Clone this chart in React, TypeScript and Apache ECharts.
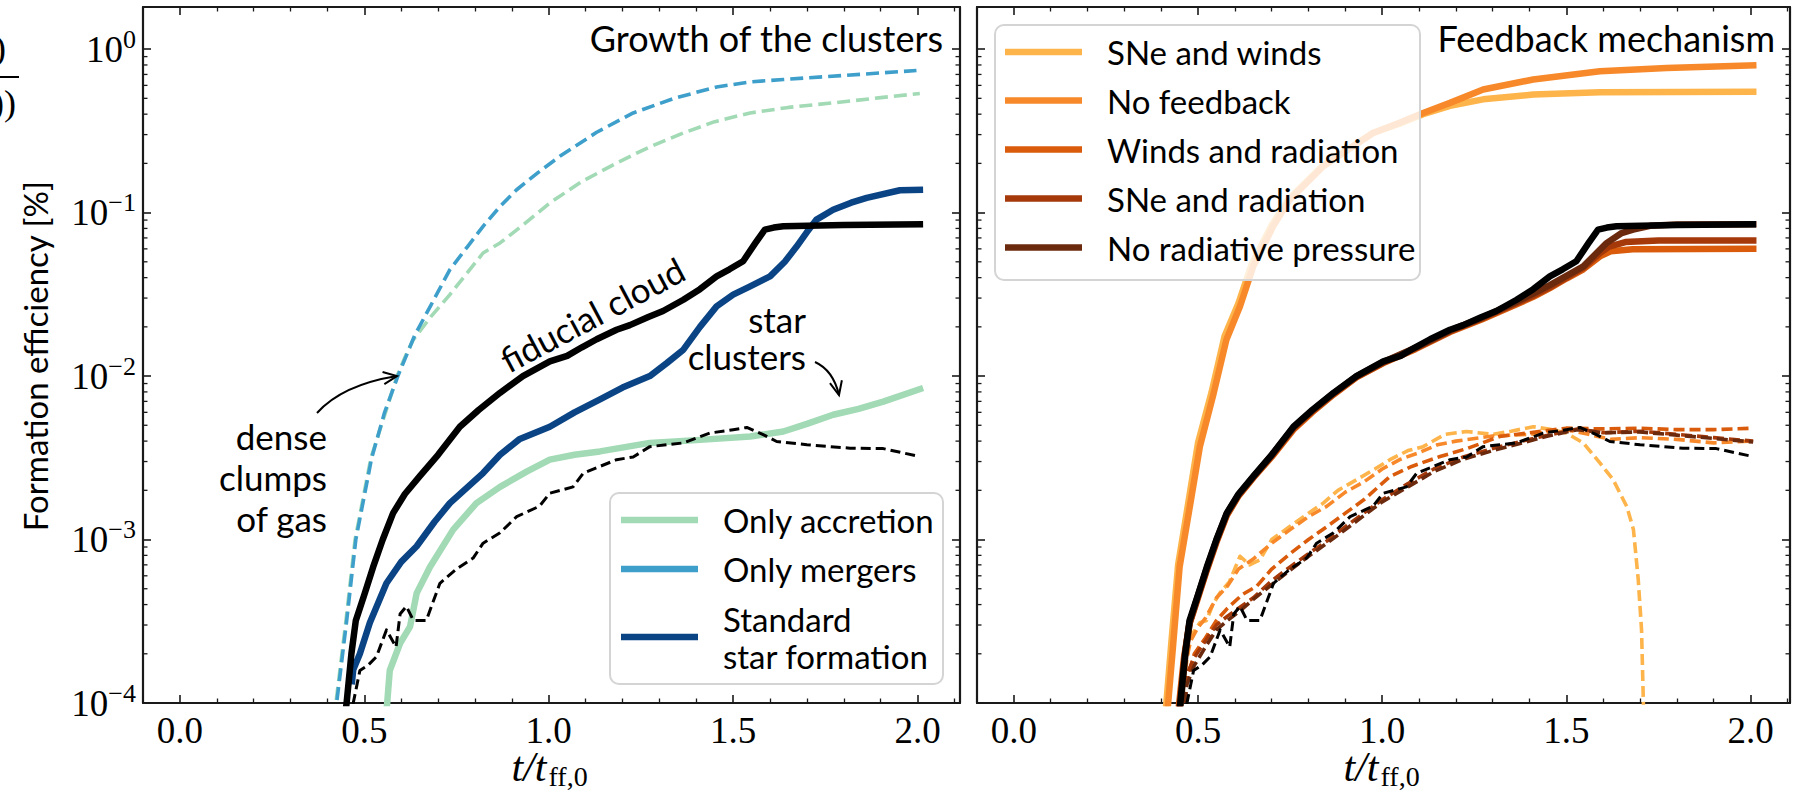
import React, { useEffect, useRef } from "react";
import * as echarts from "echarts";

type Pt = [number, number];

// ---------- Growth of the clusters (left panel) ----------
// fiducial cloud, total stellar mass (solid black) – shared by both panels
const fiducialCloud: Pt[] = [
  [0.447, 8e-5], [0.452, 1.0e-4], [0.465, 2.0e-4], [0.477, 3.2e-4], [0.5, 4.6e-4],
  [0.524, 6.8e-4], [0.55, 1.0e-3], [0.578, 1.45e-3], [0.61, 1.9e-3], [0.651, 2.45e-3],
  [0.7, 3.3e-3], [0.759, 4.9e-3], [0.81, 6.2e-3], [0.868, 7.9e-3], [0.93, 1.0e-2],
  [1.003, 1.23e-2], [1.05, 1.33e-2], [1.09, 1.5e-2], [1.13, 1.68e-2], [1.184, 1.92e-2],
  [1.22, 2.05e-2], [1.27, 2.3e-2], [1.31, 2.5e-2], [1.365, 2.93e-2], [1.41, 3.4e-2],
  [1.455, 4.07e-2], [1.49, 4.5e-2], [1.527, 5.04e-2], [1.56, 6.5e-2], [1.586, 7.87e-2],
  [1.61, 8.1e-2], [1.636, 8.24e-2], [1.8, 8.4e-2], [2.015, 8.5e-2],
];
// fiducial cloud, mass in star clusters (dashed black) – shared by both panels
const fiducialClusters: Pt[] = [
  [0.466, 8e-5], [0.47, 1.0e-4], [0.488, 1.58e-4], [0.51, 1.7e-4], [0.533, 1.92e-4],
  [0.56, 2.8e-4], [0.586, 2.2e-4], [0.597, 3.5e-4], [0.614, 3.9e-4], [0.633, 3.2e-4],
  [0.668, 3.2e-4], [0.705, 5.4e-4], [0.75, 6.6e-4], [0.795, 7.7e-4], [0.822, 9.5e-4],
  [0.868, 1.1e-3], [0.913, 1.38e-3], [0.975, 1.6e-3], [1.003, 1.92e-3], [1.066, 2.1e-3],
  [1.094, 2.55e-3], [1.184, 3.08e-3], [1.229, 3.2e-3], [1.274, 3.7e-3], [1.319, 3.8e-3],
  [1.365, 3.9e-3], [1.437, 4.48e-3], [1.5, 4.7e-3], [1.537, 4.85e-3], [1.58, 4.4e-3],
  [1.618, 3.98e-3], [1.7, 3.8e-3], [1.817, 3.62e-3], [1.907, 3.6e-3], [2.006, 3.22e-3],
];
const standardSF: Pt[] = [
  [0.466, 1.3e-4], [0.47, 1.6e-4], [0.488, 2.0e-4], [0.515, 3.1e-4], [0.56, 5.4e-4],
  [0.6, 7.3e-4], [0.642, 9.1e-4], [0.69, 1.28e-3], [0.732, 1.67e-3], [0.822, 2.55e-3],
  [0.868, 3.3e-3], [0.92, 4.1e-3], [1.003, 4.9e-3], [1.07, 6.0e-3], [1.139, 7.2e-3],
  [1.2, 8.5e-3], [1.274, 1.0e-2], [1.32, 1.2e-2], [1.365, 1.45e-2], [1.41, 2.0e-2],
  [1.455, 2.67e-2], [1.5, 3.15e-2], [1.546, 3.54e-2], [1.6, 4.07e-2], [1.64, 5.0e-2],
  [1.672, 6.2e-2], [1.7, 7.6e-2], [1.726, 9.06e-2], [1.771, 1.04e-1], [1.82, 1.15e-1],
  [1.862, 1.23e-1], [1.952, 1.37e-1], [2.015, 1.38e-1],
];
const onlyAccretion: Pt[] = [
  [0.558, 8e-5], [0.562, 1.0e-4], [0.569, 1.58e-4], [0.597, 2.32e-4], [0.624, 2.93e-4],
  [0.642, 4.7e-4], [0.678, 6.8e-4], [0.741, 1.15e-3], [0.804, 1.67e-3], [0.868, 2.1e-3],
  [0.94, 2.6e-3], [1.003, 3.08e-3], [1.07, 3.3e-3], [1.139, 3.46e-3], [1.274, 3.9e-3],
  [1.41, 4.07e-3], [1.546, 4.27e-3], [1.636, 4.58e-3], [1.7, 5.1e-3], [1.771, 5.8e-3],
  [1.84, 6.3e-3], [1.907, 6.98e-3], [2.015, 8.45e-3],
];
// dense clumps of gas (dashed)
const onlyAccretionGas: Pt[] = [
  [0.418, 8e-5], [0.423, 1e-4], [0.45, 3.16e-4], [0.475, 1e-3], [0.518, 3.16e-3],
  [0.589, 1e-2], [0.61, 1.3e-2], [0.632, 1.66e-2], [0.68, 2.3e-2], [0.732, 3.15e-2],
  [0.822, 5.66e-2], [0.868, 6.52e-2], [0.93, 8.4e-2], [1.003, 1.146e-1], [1.09, 1.55e-1],
  [1.184, 2.01e-1], [1.27, 2.5e-1], [1.365, 3.07e-1], [1.45, 3.6e-1], [1.546, 4.07e-1],
  [1.65, 4.4e-1], [1.771, 4.69e-1], [1.9, 5.05e-1], [2.006, 5.35e-1],
];
const onlyMergersGas: Pt[] = [
  [0.42, 8e-5], [0.425, 1e-4], [0.452, 3.16e-4], [0.477, 1e-3], [0.52, 3.16e-3],
  [0.555, 6.0e-3], [0.591, 1e-2], [0.637, 1.78e-2], [0.68, 2.7e-2], [0.732, 4.48e-2],
  [0.78, 6.2e-2], [0.822, 8.24e-2], [0.868, 1.09e-1], [0.913, 1.38e-1], [0.97, 1.75e-1],
  [1.03, 2.21e-1], [1.13, 3.1e-1], [1.229, 4.07e-1], [1.34, 5.0e-1], [1.455, 5.87e-1],
  [1.546, 6.3e-1], [1.636, 6.52e-1], [1.8, 6.9e-1], [1.997, 7.4e-1],
];

// ---------- Feedback mechanism (right panel) ----------
const sneWinds: Pt[] = [
  [0.41, 8e-5], [0.414, 1e-4], [0.428, 2.4e-4], [0.446, 7e-4], [0.474, 1.7e-3],
  [0.5, 3.9e-3], [0.537, 8e-3], [0.572, 1.75e-2], [0.61, 2.8e-2], [0.645, 4.8e-2],
  [0.7, 8.4e-2], [0.745, 1.2e-1], [0.84, 1.95e-1], [0.975, 3.07e-1], [1.047, 3.5e-1],
  [1.111, 4.0e-1], [1.184, 4.5e-1], [1.274, 4.93e-1], [1.41, 5.27e-1], [1.591, 5.44e-1],
  [2.016, 5.48e-1],
];
const noFeedback: Pt[] = [
  [0.415, 8e-5], [0.419, 1e-4], [0.432, 2.2e-4], [0.45, 6.8e-4], [0.478, 1.6e-3],
  [0.505, 3.7e-3], [0.541, 7.6e-3], [0.577, 1.67e-2], [0.614, 2.67e-2], [0.65, 4.69e-2],
  [0.704, 8.24e-2], [0.749, 1.2e-1], [0.84, 1.92e-1], [0.975, 3.07e-1], [1.047, 3.54e-1],
  [1.111, 4.07e-1], [1.184, 4.69e-1], [1.274, 5.66e-1], [1.41, 6.52e-1], [1.591, 7.33e-1],
  [1.772, 7.67e-1], [2.016, 7.96e-1],
];
const windsRadiation: Pt[] = [
  [0.444, 8e-5], [0.449, 1.0e-4], [0.462, 1.9e-4], [0.476, 3.0e-4], [0.5, 4.4e-4],
  [0.524, 6.5e-4], [0.55, 9.6e-4], [0.578, 1.4e-3], [0.61, 1.85e-3], [0.651, 2.4e-3],
  [0.7, 3.2e-3], [0.759, 4.7e-3], [0.81, 6.0e-3], [0.868, 7.7e-3], [0.93, 9.8e-3],
  [1.003, 1.2e-2], [1.09, 1.46e-2], [1.184, 1.86e-2], [1.27, 2.22e-2], [1.365, 2.75e-2],
  [1.41, 3.05e-2], [1.455, 3.45e-2], [1.5, 3.95e-2], [1.546, 4.5e-2], [1.591, 5.4e-2],
  [1.62, 5.8e-2], [1.68, 5.97e-2], [2.016, 6.0e-2],
];
const sneRadiation: Pt[] = [
  [0.446, 8e-5], [0.451, 1.0e-4], [0.464, 1.95e-4], [0.477, 3.1e-4], [0.5, 4.5e-4],
  [0.524, 6.6e-4], [0.55, 9.8e-4], [0.578, 1.42e-3], [0.61, 1.87e-3], [0.651, 2.42e-3],
  [0.7, 3.25e-3], [0.759, 4.8e-3], [0.81, 6.1e-3], [0.868, 7.8e-3], [0.93, 9.9e-3],
  [1.003, 1.21e-2], [1.09, 1.48e-2], [1.184, 1.88e-2], [1.27, 2.25e-2], [1.365, 2.8e-2],
  [1.41, 3.1e-2], [1.455, 3.5e-2], [1.5, 4.0e-2], [1.546, 4.6e-2], [1.591, 5.66e-2],
  [1.616, 6.2e-2], [1.66, 6.6e-2], [1.75, 6.75e-2], [2.016, 6.76e-2],
];
const noRadPressure: Pt[] = [
  [0.448, 8e-5], [0.453, 1.0e-4], [0.466, 2.0e-4], [0.478, 3.15e-4], [0.5, 4.55e-4],
  [0.524, 6.7e-4], [0.55, 9.9e-4], [0.578, 1.44e-3], [0.61, 1.88e-3], [0.651, 2.43e-3],
  [0.7, 3.28e-3], [0.759, 4.85e-3], [0.81, 6.15e-3], [0.868, 7.85e-3], [0.93, 9.95e-3],
  [1.003, 1.22e-2], [1.09, 1.49e-2], [1.184, 1.9e-2], [1.27, 2.27e-2], [1.365, 2.85e-2],
  [1.41, 3.2e-2], [1.455, 3.6e-2], [1.5, 4.1e-2], [1.546, 4.69e-2], [1.58, 5.6e-2],
  [1.609, 6.5e-2], [1.65, 7.5e-2], [1.681, 7.87e-2], [1.727, 8.3e-2], [1.8, 8.45e-2],
  [2.016, 8.5e-2],
];
// mass in star clusters (dashed)
const sneWindsClusters: Pt[] = [
  [0.455, 8e-5], [0.462, 1.3e-4], [0.475, 2.3e-4], [0.487, 2.7e-4], [0.505, 3.1e-4],
  [0.523, 3.2e-4], [0.54, 4.0e-4], [0.559, 4.7e-4], [0.585, 5.5e-4], [0.614, 7.9e-4],
  [0.64, 7.0e-4], [0.668, 7.5e-4], [0.7, 1.0e-3], [0.749, 1.2e-3], [0.8, 1.45e-3],
  [0.84, 1.67e-3], [0.88, 2.0e-3], [0.93, 2.32e-3], [0.98, 2.7e-3], [1.021, 3.08e-3],
  [1.07, 3.5e-3], [1.111, 3.7e-3], [1.17, 4.4e-3], [1.229, 4.58e-3], [1.3, 4.4e-3],
  [1.35, 4.6e-3], [1.41, 4.9e-3], [1.46, 4.7e-3], [1.5, 4.48e-3], [1.546, 3.9e-3],
  [1.591, 2.94e-3], [1.627, 2.32e-3], [1.664, 1.59e-3], [1.682, 1.15e-3], [1.695, 5.7e-4],
  [1.704, 2.8e-4], [1.709, 1.0e-4], [1.711, 5e-5],
];
const noFeedbackClusters: Pt[] = [
  [0.452, 8e-5], [0.46, 1.5e-4], [0.48, 2.4e-4], [0.5, 2.9e-4], [0.52, 3.3e-4],
  [0.55, 4.4e-4], [0.58, 5.2e-4], [0.61, 6.6e-4], [0.65, 7.6e-4], [0.7, 9.5e-4],
  [0.75, 1.15e-3], [0.8, 1.38e-3], [0.85, 1.6e-3], [0.9, 1.95e-3], [0.95, 2.25e-3],
  [1.0, 2.7e-3], [1.05, 3.1e-3], [1.1, 3.4e-3], [1.15, 3.8e-3], [1.2, 4.0e-3],
  [1.3, 4.3e-3], [1.4, 4.4e-3], [1.46, 4.6e-3], [1.5, 4.7e-3], [1.56, 4.4e-3],
  [1.62, 4.1e-3], [1.7, 4.2e-3], [1.8, 4.1e-3], [1.9, 3.9e-3], [2.007, 4.0e-3],
];
const windsRadiationClusters: Pt[] = [
  [0.46, 8e-5], [0.47, 1.4e-4], [0.49, 2.0e-4], [0.52, 2.5e-4], [0.55, 3.2e-4],
  [0.58, 3.8e-4], [0.62, 4.6e-4], [0.66, 5.2e-4], [0.7, 6.6e-4], [0.75, 8.2e-4],
  [0.8, 1.0e-3], [0.85, 1.2e-3], [0.9, 1.45e-3], [0.95, 1.75e-3], [1.021, 2.43e-3],
  [1.08, 2.8e-3], [1.157, 3.22e-3], [1.23, 3.6e-3], [1.319, 4.27e-3], [1.4, 4.5e-3],
  [1.5, 4.8e-3], [1.6, 4.75e-3], [1.7, 4.8e-3], [1.8, 4.7e-3], [1.9, 4.7e-3], [2.007, 4.8e-3],
];
const sneRadiationClusters: Pt[] = [
  [0.458, 8e-5], [0.47, 1.5e-4], [0.49, 1.9e-4], [0.52, 2.4e-4], [0.55, 3.0e-4],
  [0.58, 3.4e-4], [0.61, 3.8e-4], [0.65, 4.4e-4], [0.7, 5.6e-4], [0.75, 6.8e-4],
  [0.8, 8.2e-4], [0.85, 9.8e-4], [0.9, 1.2e-3], [0.95, 1.45e-3], [1.0, 1.75e-3],
  [1.07, 2.2e-3], [1.14, 2.7e-3], [1.22, 3.2e-3], [1.3, 3.6e-3], [1.38, 4.0e-3],
  [1.45, 4.35e-3], [1.53, 4.75e-3], [1.6, 4.5e-3], [1.7, 4.6e-3], [1.8, 4.4e-3],
  [1.9, 4.2e-3], [2.007, 4.0e-3],
];
const noRadPressureClusters: Pt[] = [
  [0.46, 8e-5], [0.47, 1.3e-4], [0.49, 1.7e-4], [0.52, 2.2e-4], [0.55, 2.8e-4],
  [0.58, 3.2e-4], [0.61, 3.6e-4], [0.65, 4.3e-4], [0.7, 5.3e-4], [0.75, 6.5e-4],
  [0.8, 7.9e-4], [0.85, 9.5e-4], [0.9, 1.15e-3], [0.95, 1.4e-3], [1.0, 1.7e-3],
  [1.07, 2.1e-3], [1.14, 2.6e-3], [1.22, 3.1e-3], [1.3, 3.5e-3], [1.38, 3.9e-3],
  [1.45, 4.3e-3], [1.53, 4.7e-3], [1.6, 4.5e-3], [1.7, 4.55e-3], [1.8, 4.35e-3],
  [1.9, 4.15e-3], [2.007, 3.95e-3],
];

// ---------- labels ----------
const leftLegendLabels = ["Only accretion", "Only mergers", "Standard\nstar formation"];
const rightLegendLabels = [
  "SNe and winds", "No feedback", "Winds and radiation", "SNe and radiation", "No radiative pressure",
];
const panelTitles = ["Growth of the clusters", "Feedback mechanism"];
const yAxisTitle = "Formation efficiency [%]";
const decades = [-4, -3, -2, -1, 0];
const minorMultipliers = [2, 3, 4, 5, 6, 7, 8, 9];

const COL = {
  accretion: "#a1dab4",
  mergers: "#3e9fcb",
  standard: "#0b4485",
  sneWinds: "#fdb44b",
  noFb: "#f7892a",
  windsRad: "#d95b0b",
  sneRad: "#a5390a",
  noRad: "#6b2a0e",
};
const leftLegendColors = [COL.accretion, COL.mergers, COL.standard];
const rightLegendColors = [COL.sneWinds, COL.noFb, COL.windsRad, COL.sneRad, COL.noRad];

const SANS = 'Lato, "Noto Sans", sans-serif';
const SERIF = '"Liberation Serif", "DejaVu Serif", serif';
const INK = "#1a1a1a";

const Y_MIN = 1e-4;
const Y_MAX = 1.81;

// layout of the two panels (pixels)
const GRIDS = [
  { left: 143, top: 7, width: 817, height: 696, xMax: 2.115 },
  { left: 977, top: 7, width: 813, height: 696, xMax: 2.107 },
];

function lineSeries(
  name: string, data: Pt[], color: string, width: number, dash: number[] | null, panel: number, z: number,
) {
  return {
    type: "line",
    name,
    data,
    xAxisIndex: panel * 2,
    yAxisIndex: panel * 2,
    showSymbol: false,
    symbol: "none",
    silent: true,
    clip: true,
    z,
    lineStyle: { color, width, type: dash ?? "solid", cap: "butt", join: "round" },
  };
}

function minorTickSeries(panel: number) {
  const values: number[] = [];
  decades.forEach((d) =>
    minorMultipliers.forEach((k) => {
      const v = k * Math.pow(10, d);
      if (v < Y_MAX) values.push(v);
    }),
  );
  return {
    type: "custom",
    xAxisIndex: panel * 2,
    yAxisIndex: panel * 2,
    silent: true,
    clip: false,
    z: 10,
    data: values.map((v) => [0, v]),
    renderItem: (params: any, api: any) => {
      const p = api.coord([0, api.value(1)]);
      const cs = params.coordSys;
      const st = { stroke: INK, lineWidth: 1.3 };
      return {
        type: "group",
        children: [
          { type: "line", shape: { x1: cs.x, y1: p[1], x2: cs.x + 4.5, y2: p[1] }, style: st },
          { type: "line", shape: { x1: cs.x + cs.width - 4.5, y1: p[1], x2: cs.x + cs.width, y2: p[1] }, style: st },
        ],
      };
    },
  };
}

function xAxes(panel: number) {
  const g = GRIDS[panel];
  const base = {
    type: "value",
    gridIndex: panel,
    min: -0.1,
    max: g.xMax,
    splitNumber: 5,
    splitLine: { show: false },
    axisLine: { show: true, onZero: false, lineStyle: { color: INK, width: 2.2 } },
    axisTick: { show: true, inside: true, length: 8, lineStyle: { color: INK, width: 1.6 } },
    minorTick: { show: true, splitNumber: 5, length: 4.5, lineStyle: { color: INK, width: 1.3 } },
    minorSplitLine: { show: false },
  };
  return [
    {
      ...base,
      position: "bottom",
      axisLabel: {
        show: true,
        margin: 9,
        color: "#000",
        fontFamily: SERIF,
        fontSize: 37,
        formatter: (v: number) =>
          v > -1e-9 && Math.abs(v * 2 - Math.round(v * 2)) < 1e-6 ? v.toFixed(1) : "",
      },
    },
    { ...base, position: "top", axisLabel: { show: false } },
  ];
}

function yAxes(panel: number) {
  const base = {
    type: "log",
    logBase: 10,
    gridIndex: panel,
    min: Y_MIN,
    max: Y_MAX,
    splitLine: { show: false },
    minorTick: { show: false },
    axisLine: { show: true, onZero: false, lineStyle: { color: INK, width: 2.2 } },
    axisTick: { show: true, inside: true, length: 8, lineStyle: { color: INK, width: 1.6 } },
  };
  return [
    {
      ...base,
      position: "left",
      axisLabel: {
        show: panel === 0,
        margin: 7,
        color: "#000",
        padding: [0, 0, 10, 0],
        formatter: (v: number) => {
          const e = Math.log10(v);
          const r = Math.round(e);
          if (Math.abs(e - r) > 1e-6) return "";
          return `{b|10}{s|${r < 0 ? "\u2212" + -r : r}}`;
        },
        rich: {
          b: { fontFamily: SERIF, fontSize: 37, lineHeight: 36, padding: [10, 0, 0, 0], color: "#000" },
          s: { fontFamily: SERIF, fontSize: 26, lineHeight: 25, verticalAlign: "top", color: "#000" },
        },
      },
    },
    { ...base, position: "right", axisLabel: { show: false } },
  ];
}

function txt(text: string, x: number, y: number, size: number, align: string, extra: any = {}) {
  return {
    type: "text",
    x,
    y,
    silent: true,
    z: 120,
    ...extra,
    style: {
      text,
      fill: "#000",
      fontSize: size,
      fontFamily: SANS,
      align,
      textAlign: align,
      verticalAlign: "middle",
      textVerticalAlign: "middle",
      ...(extra.style || {}),
    },
  };
}

function arrowHead(tipX: number, tipY: number, fromX: number, fromY: number) {
  const ang = Math.atan2(tipY - fromY, tipX - fromX);
  const len = 15;
  const spread = 0.42;
  const a1 = ang + Math.PI - spread;
  const a2 = ang + Math.PI + spread;
  return {
    type: "polyline",
    silent: true,
    z: 120,
    shape: {
      points: [
        [tipX + len * Math.cos(a1), tipY + len * Math.sin(a1)],
        [tipX, tipY],
        [tipX + len * Math.cos(a2), tipY + len * Math.sin(a2)],
      ],
    },
    style: { stroke: "#000", lineWidth: 2, fill: "none" },
  };
}

function legendBox(
  x: number, y: number, w: number, h: number, labels: string[], colors: string[], rows: number[],
  lineX: number, textX: number, size: number,
) {
  const children: any[] = [
    {
      type: "rect",
      shape: { x, y, width: w, height: h, r: 9 },
      style: { fill: "rgba(255,255,255,0.8)", stroke: "#d4d4d4", lineWidth: 2 },
      z: 100,
      silent: true,
    },
  ];
  labels.forEach((label, i) => {
    children.push({
      type: "line",
      shape: { x1: lineX, y1: rows[i], x2: lineX + 77, y2: rows[i] },
      style: { stroke: colors[i], lineWidth: 6.5 },
      z: 110,
      silent: true,
    });
    children.push(txt(label, textX, rows[i], size, "left", { style: { lineHeight: 37 } }));
  });
  return children;
}

// t / t_ff,0 written as an italic fraction with an upright subscript
function xTitle(cx: number) {
  return [
    {
      type: "text", x: cx - 40, y: 767, silent: true, z: 120,
      style: {
        text: "t/t", fill: "#000", fontSize: 42, lineHeight: 42, fontStyle: "italic", fontFamily: SERIF,
        align: "left", textAlign: "left", verticalAlign: "middle", textVerticalAlign: "middle",
      },
    },
    {
      type: "text", x: cx - 3, y: 776, silent: true, z: 120,
      style: {
        text: "ff,0", fill: "#000", fontSize: 28, lineHeight: 28, fontFamily: SERIF,
        align: "left", textAlign: "left", verticalAlign: "middle", textVerticalAlign: "middle",
      },
    },
  ];
}

export default function App() {
  const ref = useRef<HTMLDivElement>(null);

  useEffect(() => {
    if (!ref.current) return;
    const chart = echarts.init(ref.current, undefined, { renderer: "svg" });

    const dashGas = [13, 6];
    const dashBlack = [10, 5];
    const dashFb = [11, 5];

    const series: any[] = [
      // left panel
      lineSeries("Only accretion (gas)", onlyAccretionGas, COL.accretion, 3.6, dashGas, 0, 2),
      lineSeries("Only mergers (gas)", onlyMergersGas, COL.mergers, 3.6, dashGas, 0, 2),
      lineSeries("Only accretion", onlyAccretion, COL.accretion, 6.5, null, 0, 3),
      lineSeries("Standard star formation", standardSF, COL.standard, 6.5, null, 0, 3),
      lineSeries("Fiducial clusters", fiducialClusters, "#000", 3, dashBlack, 0, 4),
      lineSeries("Fiducial cloud", fiducialCloud, "#000", 6.5, null, 0, 5),
      // right panel, dashed
      lineSeries("SNe and winds (clusters)", sneWindsClusters, COL.sneWinds, 3.6, dashFb, 1, 2),
      lineSeries("No feedback (clusters)", noFeedbackClusters, COL.noFb, 3.6, dashFb, 1, 2),
      lineSeries("Winds and radiation (clusters)", windsRadiationClusters, COL.windsRad, 3.6, dashFb, 1, 2),
      lineSeries("SNe and radiation (clusters)", sneRadiationClusters, COL.sneRad, 3.6, dashFb, 1, 2),
      lineSeries("No radiative pressure (clusters)", noRadPressureClusters, COL.noRad, 3.6, dashFb, 1, 2),
      lineSeries("Fiducial clusters R", fiducialClusters, "#000", 3, dashBlack, 1, 3),
      // right panel, solid
      lineSeries("SNe and winds", sneWinds, COL.sneWinds, 6.5, null, 1, 4),
      lineSeries("No feedback", noFeedback, COL.noFb, 6.5, null, 1, 4),
      lineSeries("Winds and radiation", windsRadiation, COL.windsRad, 6.5, null, 1, 4),
      lineSeries("SNe and radiation", sneRadiation, COL.sneRad, 6.5, null, 1, 4),
      lineSeries("No radiative pressure", noRadPressure, COL.noRad, 6.5, null, 1, 4),
      lineSeries("Fiducial cloud R", fiducialCloud, "#000", 6.5, null, 1, 5),
      minorTickSeries(0),
      minorTickSeries(1),
    ];

    const graphic: any[] = [
      // panel titles
      txt(panelTitles[0], 943, 38, 36, "right"),
      txt(panelTitles[1], 1775, 38, 36, "right"),
      // y-axis title
      txt(yAxisTitle, 35, 356, 33, "center", { rotation: Math.PI / 2 }),
      // annotations
      txt("fiducial cloud", 592, 314, 35, "center", { rotation: (28 * Math.PI) / 180 }),
      txt("star\nclusters", 806, 337, 35, "right", { style: { lineHeight: 37 } }),
      txt("dense\nclumps\nof gas", 327, 477, 35, "right", { style: { lineHeight: 41 } }),
      {
        type: "bezierCurve", silent: true, z: 120,
        shape: { x1: 317, y1: 413, cpx1: 334, cpy1: 394, cpx2: 360, cpy2: 382, x2: 397, y2: 376 },
        style: { stroke: "#000", lineWidth: 2, fill: "none" },
      },
      arrowHead(397, 376, 370, 380),
      {
        type: "bezierCurve", silent: true, z: 120,
        shape: { x1: 815, y1: 362, cpx1: 826, cpy1: 367, cpx2: 835, cpy2: 378, x2: 839, y2: 395 },
        style: { stroke: "#000", lineWidth: 2, fill: "none" },
      },
      arrowHead(839, 395, 836, 382),
      // legends
      ...legendBox(610, 493, 333, 191, leftLegendLabels, leftLegendColors, [520, 569, 637], 621, 723, 33),
      ...legendBox(995, 25, 425, 255, rightLegendLabels, rightLegendColors, [52, 100.5, 149.5, 198.5, 247.5], 1005, 1107, 33),
      // x-axis titles
      ...xTitle(551.5),
      ...xTitle(1383.5),
      // clipped fraction at the figure edge
      {
        type: "text", x: 6, y: 48, silent: true, z: 120,
        style: { text: "0)", fill: "#000", fontSize: 36, lineHeight: 36, fontFamily: SERIF, align: "right", textAlign: "right", verticalAlign: "middle", textVerticalAlign: "middle" },
      },
      {
        type: "text", x: 16, y: 103, silent: true, z: 120,
        style: { text: "0))", fill: "#000", fontSize: 36, lineHeight: 36, fontFamily: SERIF, align: "right", textAlign: "right", verticalAlign: "middle", textVerticalAlign: "middle" },
      },
      {
        type: "line", silent: true, z: 120,
        shape: { x1: 0, y1: 77, x2: 19, y2: 77 },
        style: { stroke: "#000", lineWidth: 2 },
      },
    ];

    chart.setOption({
      animation: false,
      backgroundColor: "#fff",
      grid: GRIDS.map((g) => ({
        left: g.left,
        top: g.top,
        width: g.width,
        height: g.height,
        containLabel: false,
        outerBoundsMode: "none",
        show: false,
      })),
      xAxis: [...xAxes(0), ...xAxes(1)],
      yAxis: [...yAxes(0), ...yAxes(1)],
      series,
      graphic,
    });

    return () => chart.dispose();
  }, []);

  return (
    <div
      ref={ref}
      style={{ position: "fixed", left: 0, top: 0, width: 1793, height: 794, background: "#fff" }}
    />
  );
}
